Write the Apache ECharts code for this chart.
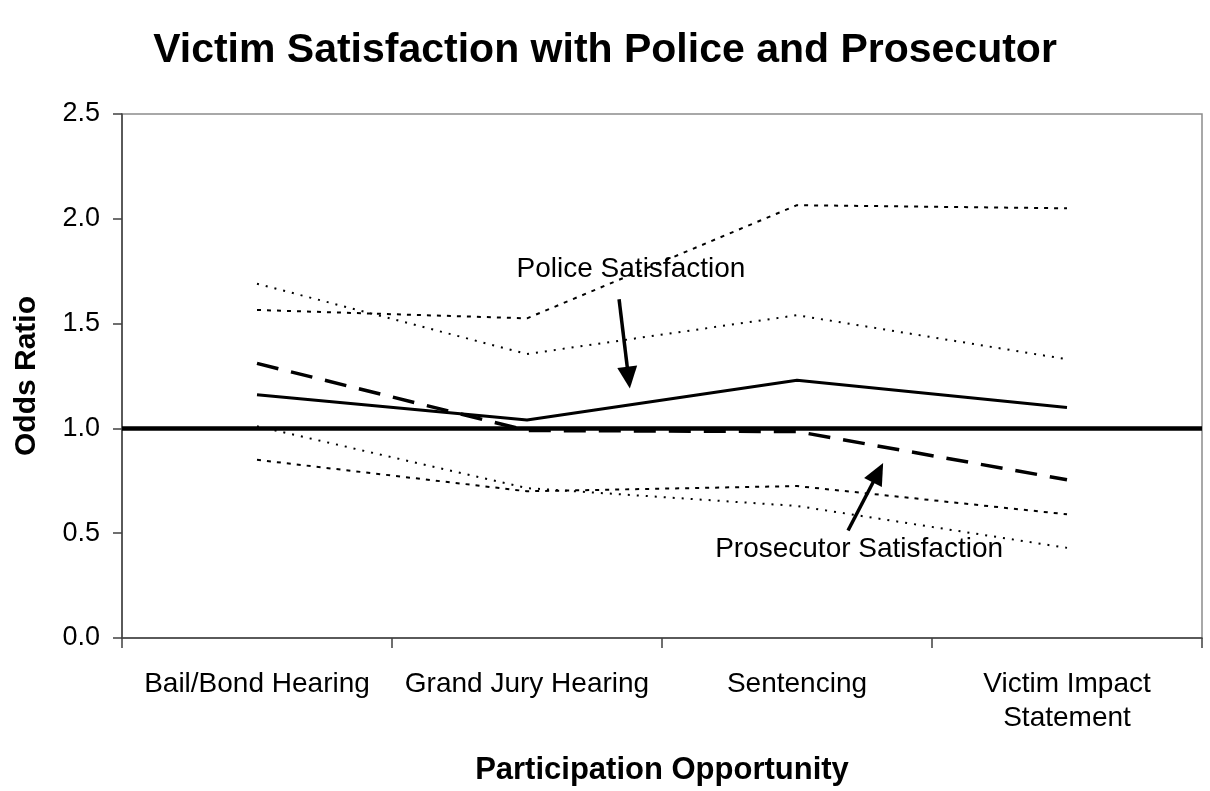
<!DOCTYPE html>
<html>
<head>
<meta charset="utf-8">
<script src="https://cdn.jsdelivr.net/npm/echarts@6/dist/echarts.min.js"></script>
<style>
  html, body { margin: 0; padding: 0; background: #fff; }
  #chart { width: 1210px; height: 791px; }
</style>
</head>
<body>
<div id="chart"></div>
<script>
// Participation opportunities on the x axis
const categories = ['Bail/Bond Hearing', 'Grand Jury Hearing', 'Sentencing', 'Victim Impact\nStatement'];

// Odds ratios and their confidence bounds
const policeSatisfaction     = [1.16, 1.04, 1.23, 1.10];
const prosecutorSatisfaction = [1.31, 0.99, 0.985, 0.755];
const policeUpper            = [1.565, 1.525, 2.065, 2.05];
const policeLower            = [0.85, 0.70, 0.725, 0.59];
const prosecutorUpper        = [1.69, 1.355, 1.54, 1.33];
const prosecutorLower        = [1.01, 0.715, 0.63, 0.43];

// Y axis tick values
const yTicks = [0.0, 0.5, 1.0, 1.5, 2.0, 2.5];
const referenceValue = 1.0;

// Callout annotations in data space (x as category position, y as odds ratio)
const calloutTexts = ['Police Satisfaction', 'Prosecutor Satisfaction'];
const calloutTextAt = [[1.385, 1.76], [2.23, 0.423]];
const calloutArrows = [[1.341, 1.616, 1.381, 1.19], [2.189, 0.513, 2.319, 0.835]];

const FONT = 'Liberation Sans, Arial, sans-serif';

const chart = echarts.init(document.getElementById('chart'), null, { renderer: 'canvas' });

function ciSeries(name, data, width, dash) {
  return {
    name: name,
    type: 'line',
    data: data,
    symbol: 'none',
    silent: true,
    lineStyle: { color: '#000', width: width, type: dash }
  };
}

function arrowItem(params, api) {
  const p1 = api.coord([api.value(0), api.value(1)]);
  const p2 = api.coord([api.value(2), api.value(3)]);
  const dx = p2[0] - p1[0], dy = p2[1] - p1[1];
  const len = Math.sqrt(dx * dx + dy * dy);
  const ux = dx / len, uy = dy / len;
  const headLen = 22, headHalf = 10;
  const bx = p2[0] - ux * headLen, by = p2[1] - uy * headLen;
  return {
    type: 'group',
    children: [
      { type: 'line', shape: { x1: p1[0], y1: p1[1], x2: bx + ux * 2, y2: by + uy * 2 },
        style: { stroke: '#000', lineWidth: 3.5 } },
      { type: 'polygon',
        shape: { points: [[p2[0], p2[1]], [bx - uy * headHalf, by + ux * headHalf], [bx + uy * headHalf, by - ux * headHalf]] },
        style: { fill: '#000' } }
    ]
  };
}

function textItem(params, api) {
  const p = api.coord([api.value(0), api.value(1)]);
  return {
    type: 'text',
    x: p[0], y: p[1],
    style: {
      text: calloutTexts[params.dataIndex],
      fill: '#000',
      font: '28px ' + FONT,
      align: 'center',
      verticalAlign: 'middle'
    }
  };
}

chart.setOption({
  animation: false,
  backgroundColor: '#fff',
  title: {
    text: 'Victim Satisfaction with Police and Prosecutor',
    left: 'center',
    top: 25,
    textStyle: { fontFamily: FONT, fontSize: 41, fontWeight: 'bold', color: '#000' }
  },
  grid: {
    left: 122, right: 8, top: 114, bottom: 151,
    show: true, borderColor: '#8c8c8c', borderWidth: 1.5, backgroundColor: 'transparent'
  },
  xAxis: [{
    type: 'category',
    data: categories,
    boundaryGap: true,
    name: 'Participation Opportunity',
    nameLocation: 'middle',
    nameGap: 117,
    nameTextStyle: { fontFamily: FONT, fontSize: 31, fontWeight: 'bold', color: '#000' },
    axisLine: { lineStyle: { color: '#404040', width: 1.5 } },
    axisTick: { show: true, interval: 0, length: 10, lineStyle: { color: '#404040', width: 1.5 } },
    axisLabel: { interval: 0, margin: 29, fontFamily: FONT, fontSize: 28, color: '#000', lineHeight: 34 },
    splitLine: { show: false }
  }, {
    // hidden positional axis used to place the callouts between categories
    type: 'value', min: -0.5, max: 3.5, show: false
  }],
  yAxis: {
    type: 'value',
    min: 0, max: 2.5, interval: 0.5,
    name: 'Odds Ratio',
    nameLocation: 'middle',
    nameGap: 80,
    nameRotate: 90,
    nameTextStyle: { fontFamily: FONT, fontSize: 30, fontWeight: 'bold', color: '#000' },
    axisLine: { show: true, onZero: false, lineStyle: { color: '#404040', width: 1.5 } },
    axisTick: { show: true, length: 9, lineStyle: { color: '#404040', width: 1.5 } },
    axisLabel: {
      margin: 22, fontFamily: FONT, fontSize: 27, color: '#000',
      formatter: v => (yTicks.indexOf(v) >= 0 ? v.toFixed(1) : '')
    },
    splitLine: { show: false }
  },
  series: [
    ciSeries('Police upper bound', policeUpper, 2, [4, 6]),
    ciSeries('Police lower bound', policeLower, 2, [4, 6]),
    ciSeries('Prosecutor upper bound', prosecutorUpper, 2, [2, 7]),
    ciSeries('Prosecutor lower bound', prosecutorLower, 2, [2, 7]),
    {
      name: 'Police Satisfaction',
      type: 'line',
      data: policeSatisfaction,
      symbol: 'none',
      lineStyle: { color: '#000', width: 3 },
      markLine: {
        silent: true,
        symbol: 'none',
        label: { show: false },
        lineStyle: { color: '#000', width: 4.5, type: 'solid' },
        data: [{ yAxis: referenceValue }]
      }
    },
    {
      name: 'Prosecutor Satisfaction',
      type: 'line',
      data: prosecutorSatisfaction,
      symbol: 'none',
      lineStyle: { color: '#000', width: 3.5, type: [22, 13] }
    },
    {
      name: 'Callout arrows',
      type: 'custom',
      xAxisIndex: 1,
      silent: true,
      renderItem: arrowItem,
      data: calloutArrows,
      z: 10
    },
    {
      name: 'Callout labels',
      type: 'custom',
      xAxisIndex: 1,
      silent: true,
      renderItem: textItem,
      data: calloutTextAt,
      z: 10
    }
  ]
});
</script>
</body>
</html>
